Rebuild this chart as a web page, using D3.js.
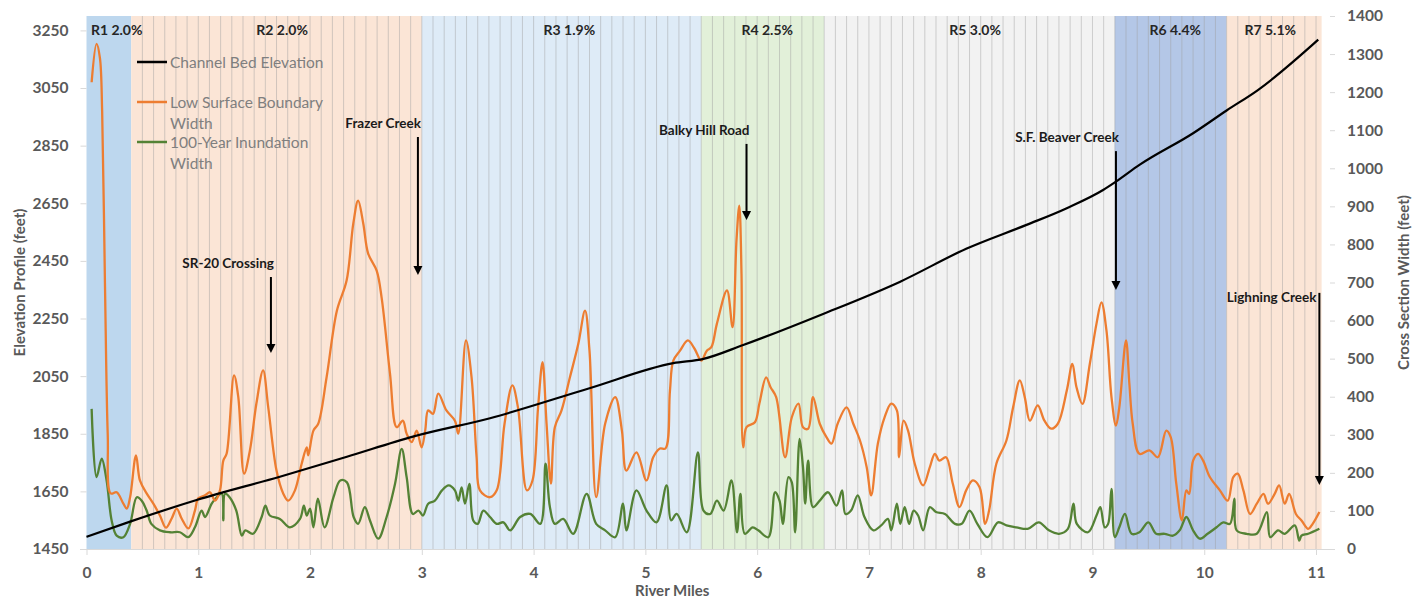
<!DOCTYPE html>
<html><head><meta charset="utf-8">
<script src="https://cdn.jsdelivr.net/npm/d3@7/dist/d3.min.js"></script>
<style>
body{margin:0;background:#fff}
svg{display:block}
text{font-family:Lato,"Open Sans",sans-serif}
</style>
</head><body>
<svg id="chart" width="1423" height="607"></svg>
<script>
// ---------- DATA ----------
const reachLabels = ["R1 2.0%","R2 2.0%","R3 1.9%","R4 2.5%","R5 3.0%","R6 4.4%","R7 5.1%"];
const reachStart  = [0, 0.4, 3.0, 5.5, 6.6, 9.2, 10.2];
const reachEnd    = [0.4, 3.0, 5.5, 6.6, 9.2, 10.2, 11.05];
const reachLabelMile = [0.27, 1.75, 4.32, 6.09, 7.95, 9.74, 10.59];

const xTicks = [0,1,2,3,4,5,6,7,8,9,10,11];
const leftTicks = [1450,1650,1850,2050,2250,2450,2650,2850,3050,3250];
const rightTicks = [0,100,200,300,400,500,600,700,800,900,1000,1100,1200,1300,1400];

// Channel Bed Elevation (feet, left axis)
const bedMiles = [0,0.39,0.985,1.73,2.33,2.92,3.61,4.5,5.25,5.52,5.875,6.59,7.28,7.87,8.41,8.77,9.095,9.21,9.42,9.9,10.2,10.48,11.02];
const bedElev  = [1492,1545,1620,1701,1770,1840,1904,2008,2095,2110,2158,2266,2378,2492,2575,2633,2696,2725,2783,2893,2972,3043,3218];

// Low Surface Boundary Width (feet, right axis)
const lsbMiles = [0.046,0.09,0.12,0.14,0.165,0.19,0.216,0.27,0.33,0.36,0.39,0.443,0.478,0.538,0.598,0.657,0.711,0.762,0.807,0.851,0.911,0.97,1.0,1.06,1.105,1.15,1.194,1.224,1.254,1.32,1.358,1.41,1.462,1.52,1.58,1.626,1.70,1.76,1.805,1.865,1.925,1.97,1.984,2.03,2.073,2.148,2.24,2.327,2.387,2.43,2.476,2.52,2.596,2.64,2.715,2.775,2.83,2.864,2.91,2.954,2.998,3.03,3.057,3.10,3.147,3.22,3.296,3.326,3.395,3.445,3.49,3.52,3.61,3.67,3.74,3.81,3.86,3.94,3.99,4.04,4.08,4.116,4.155,4.19,4.25,4.325,4.40,4.46,4.50,4.56,4.64,4.73,4.79,4.83,4.92,5.01,5.07,5.13,5.18,5.22,5.25,5.31,5.38,5.44,5.50,5.55,5.59,5.64,5.73,5.78,5.815,5.84,5.86,5.875,5.905,5.98,6.02,6.08,6.12,6.17,6.25,6.31,6.37,6.41,6.456,6.50,6.56,6.62,6.665,6.72,6.80,6.86,6.92,6.98,7.02,7.08,7.14,7.20,7.25,7.27,7.31,7.35,7.41,7.485,7.545,7.59,7.63,7.69,7.75,7.81,7.87,7.93,7.99,8.04,8.075,8.14,8.23,8.29,8.35,8.394,8.44,8.51,8.57,8.63,8.69,8.77,8.82,8.857,8.91,8.976,9.036,9.08,9.125,9.17,9.21,9.24,9.30,9.33,9.36,9.42,9.51,9.585,9.66,9.70,9.75,9.80,9.84,9.865,9.90,9.945,9.99,10.05,10.14,10.21,10.26,10.30,10.35,10.41,10.47,10.53,10.57,10.63,10.67,10.72,10.76,10.82,10.87,10.93,10.97,11.03];
const lsbWidth = [1226,1327,1290,1150,700,300,146,149,119,106,136,246,180,146,119,88,56,80,106,80,54,101,133,141,149,127,154,232,251,456,399,198,259,382,469,372,206,146,127,154,224,267,246,311,329,451,626,705,855,915,855,776,731,661,461,320,337,303,281,311,267,311,364,355,408,364,337,303,548,451,241,154,136,154,329,430,372,154,180,372,491,329,172,320,364,451,539,626,521,136,329,399,311,206,254,180,241,264,264,416,495,521,548,526,495,521,530,592,679,583,810,902,723,267,320,333,382,451,425,399,241,346,382,320,316,399,329,294,277,329,372,329,285,215,141,277,346,382,364,241,337,311,224,167,215,250,232,241,172,110,154,180,162,66,101,224,285,372,443,399,337,377,337,316,329,416,486,425,381,486,592,648,574,399,324,372,548,434,329,250,259,241,311,294,171,75,154,145,232,250,232,189,154,127,189,198,154,92,119,145,119,145,167,119,145,92,75,53,66,97];

// 100-Year Inundation Width (feet, right axis)
const inundMiles = [0.046,0.09,0.136,0.18,0.225,0.27,0.33,0.39,0.45,0.494,0.538,0.58,0.657,0.747,0.836,0.91,0.97,1.03,1.06,1.12,1.165,1.21,1.224,1.24,1.28,1.34,1.39,1.42,1.49,1.567,1.60,1.64,1.73,1.82,1.91,1.945,1.97,2.0,2.03,2.07,2.13,2.21,2.27,2.33,2.39,2.43,2.49,2.536,2.61,2.685,2.76,2.82,2.864,2.92,2.97,3.01,3.057,3.117,3.18,3.24,3.296,3.326,3.356,3.386,3.425,3.46,3.50,3.55,3.61,3.67,3.73,3.79,3.88,3.97,4.06,4.107,4.146,4.19,4.265,4.354,4.474,4.56,4.64,4.73,4.80,4.83,4.92,5.01,5.10,5.19,5.23,5.28,5.37,5.47,5.52,5.58,5.64,5.70,5.77,5.82,5.85,5.89,5.96,6.01,6.10,6.16,6.20,6.23,6.28,6.31,6.34,6.38,6.41,6.43,6.456,6.50,6.56,6.635,6.71,6.76,6.79,6.84,6.90,6.96,7.04,7.11,7.17,7.20,7.25,7.28,7.32,7.36,7.40,7.44,7.485,7.545,7.60,7.68,7.77,7.83,7.90,7.97,8.06,8.155,8.23,8.32,8.42,8.52,8.61,8.70,8.78,8.83,8.86,8.96,9.036,9.07,9.11,9.14,9.17,9.20,9.24,9.29,9.35,9.42,9.50,9.57,9.645,9.72,9.78,9.84,9.90,9.96,10.03,10.11,10.17,10.23,10.27,10.29,10.38,10.47,10.56,10.59,10.66,10.72,10.81,10.85,10.87,10.93,11.03];
const inundWidth = [368,189,237,180,75,35,31,66,136,127,101,66,49,44,44,31,57,101,84,119,136,145,75,145,136,101,35,49,40,84,114,88,79,57,79,114,88,106,57,132,57,136,180,175,84,66,110,75,27,84,171,263,189,92,101,88,119,127,154,167,154,127,162,119,171,75,66,101,84,66,70,49,84,92,66,224,110,66,79,40,145,66,49,31,119,49,154,101,70,167,75,92,44,254,101,92,127,101,180,44,145,40,57,49,31,149,127,66,189,175,44,289,215,119,232,110,127,149,114,154,92,101,141,84,49,62,79,49,119,66,110,66,101,88,49,110,97,92,66,66,101,66,31,70,62,57,53,70,49,40,53,119,66,44,88,110,57,66,158,31,57,92,40,44,70,40,40,35,49,84,49,27,40,57,70,66,132,49,40,40,97,31,49,40,62,22,35,40,53];

// Annotations: arrow mile, arrow top / bottom in elevation units (left axis)
const annoLabels = ["SR-20 Crossing","Frazer Creek","Balky Hill Road","S.F. Beaver Creek","Lighning Creek"];
const annoMile   = [1.65, 2.965, 5.905, 9.21, 11.03];
const annoTop    = [2394, 2880, 2856, 2831, 2339];
const annoBottom = [2130, 2401, 2592, 2349, 1672];
const annoSide   = ["above","above","above","above","left"];

const legendLabels = [["Channel Bed Elevation"],["Low Surface Boundary","Width"],["100-Year Inundation","Width"]];
const seriesColors = ["#000000","#ED7D31","#548235"];

// ---------- CHART ----------
const svg = d3.select("#chart");
const plot = {left:86.5, right:1330, top:16, bottom:549};

const x = d3.scaleLinear().domain([0, 11.125]).range([plot.left, plot.right]);
const yL = d3.scaleLinear().domain([1450, 3300]).range([plot.bottom, plot.top]);
const yR = d3.scaleLinear().domain([0, 1400]).range([plot.bottom, plot.top]);

const bandColors = ["#BDD7EE","#FBE5D6","#DEEBF7","#E2F0D9","#F2F2F2","#B4C7E7","#FBE5D6"];

// reach bands
svg.append("g").selectAll("rect").data(reachStart).join("rect")
  .attr("x", (d)=>x(d))
  .attr("width", (d,i)=>x(reachEnd[i]) - x(d))
  .attr("y", plot.top)
  .attr("height", plot.bottom - plot.top)
  .attr("fill", (d,i)=>bandColors[i]);

// cross-section lines every 0.1 mile
const xsLines = d3.range(5, 111).map(k => k/10);
svg.append("g").selectAll("line").data(xsLines).join("line")
  .attr("x1", d=>x(d)).attr("x2", d=>x(d))
  .attr("y1", plot.top).attr("y2", plot.bottom)
  .attr("stroke", "#9e9e9e").attr("stroke-opacity", 0.45).attr("stroke-width", 1);

// reach labels
svg.append("g").selectAll("text").data(reachLabels).join("text")
  .attr("x", (d,i)=>x(reachLabelMile[i]))
  .attr("y", 29)
  .attr("text-anchor","middle").attr("dominant-baseline","central")
  .attr("font-size", 14).attr("font-weight", 700).attr("fill", "#262626")
  .text(d=>d);

// axes
const fmt = d3.format("d");
const gx = svg.append("g").attr("transform", `translate(0,${plot.bottom})`)
  .call(d3.axisBottom(x).tickValues(xTicks).tickSize(6).tickPadding(12).tickFormat(fmt));
gx.select(".domain").attr("stroke","#d9d9d9").attr("d", `M80,0.5H1334`);
const gl = svg.append("g").attr("transform", `translate(${plot.left},0)`)
  .call(d3.axisLeft(yL).tickValues(leftTicks).tickSize(6).tickPadding(12).tickFormat(fmt));
gl.select(".domain").remove();
const gr = svg.append("g").attr("transform", `translate(${plot.right},0)`)
  .call(d3.axisRight(yR).tickValues(rightTicks).tickSize(5).tickPadding(12).tickFormat(fmt));
gr.select(".domain").remove();
[gx, gl, gr].forEach(g=>{
  g.selectAll(".tick line").attr("stroke","#d9d9d9");
  g.selectAll(".tick text").attr("fill","#595959").attr("font-size",15.5).attr("font-weight",700)
    .attr("font-family","Lato, 'Open Sans', sans-serif");
});

// axis titles
svg.append("text").attr("x", x(5.24)).attr("y", 596).attr("text-anchor","middle")
  .attr("font-size",15).attr("font-weight",700).attr("fill","#595959").text("River Miles");
svg.append("text").attr("transform", `translate(19,${(plot.top+plot.bottom)/2}) rotate(-90)`)
  .attr("text-anchor","middle").attr("dominant-baseline","central")
  .attr("font-size",15).attr("font-weight",700).attr("fill","#595959").text("Elevation Profile (feet)");
svg.append("text").attr("transform", `translate(1403,${(plot.top+plot.bottom)/2}) rotate(-90)`)
  .attr("text-anchor","middle").attr("dominant-baseline","central")
  .attr("font-size",15).attr("font-weight",700).attr("fill","#595959").text("Cross Section Width (feet)");

// series
const lineCurve = d3.curveCatmullRom.alpha(0.5);
const inundPts = inundMiles.map((m,i)=>[m, inundWidth[i]]);
const lsbPts = lsbMiles.map((m,i)=>[m, lsbWidth[i]]);
const bedPts = bedMiles.map((m,i)=>[m, bedElev[i]]);

svg.append("path").datum(inundPts)
  .attr("d", d3.line().x(d=>x(d[0])).y(d=>yR(d[1])).curve(lineCurve))
  .attr("fill","none").attr("stroke", seriesColors[2]).attr("stroke-width", 2.3).attr("stroke-linejoin","round");
svg.append("path").datum(lsbPts)
  .attr("d", d3.line().x(d=>x(d[0])).y(d=>yR(d[1])).curve(lineCurve))
  .attr("fill","none").attr("stroke", seriesColors[1]).attr("stroke-width", 2.3).attr("stroke-linejoin","round");
svg.append("path").datum(bedPts)
  .attr("d", d3.line().x(d=>x(d[0])).y(d=>yL(d[1])).curve(d3.curveMonotoneX))
  .attr("fill","none").attr("stroke", seriesColors[0]).attr("stroke-width", 2.2);

// annotations
const ga = svg.append("g");
annoLabels.forEach((lab,i)=>{
  const ax = x(annoMile[i]);
  const top = yL(annoTop[i]), bot = yL(annoBottom[i]);
  ga.append("line").attr("x1",ax).attr("x2",ax).attr("y1",top).attr("y2",bot-8)
    .attr("stroke","#000").attr("stroke-width",2);
  ga.append("path").attr("d", `M${ax-4.5},${bot-9}L${ax+4.5},${bot-9}L${ax},${bot}Z`).attr("fill","#000");
  const t = ga.append("text").attr("font-size",13.5).attr("font-weight",700).attr("fill","#1a1a1a")
    .attr("dominant-baseline","central").attr("text-anchor","end").text(lab);
  if (annoSide[i] === "above") t.attr("x", ax+3).attr("y", top-14);
  else t.attr("x", ax-3).attr("y", top+4);
});

// legend
const lg = svg.append("g");
const legendY = [62, 102, 142];
legendLabels.forEach((lines,i)=>{
  lg.append("line").attr("x1",137).attr("x2",167).attr("y1",legendY[i]).attr("y2",legendY[i])
    .attr("stroke", seriesColors[i]).attr("stroke-width", 2.5);
  lines.forEach((ln,j)=>{
    lg.append("text").attr("x",170).attr("y",legendY[i]+j*21).attr("dominant-baseline","central")
      .attr("font-size",15.5).attr("fill","#7f7f7f").text(ln);
  });
});
</script>
</body></html>
